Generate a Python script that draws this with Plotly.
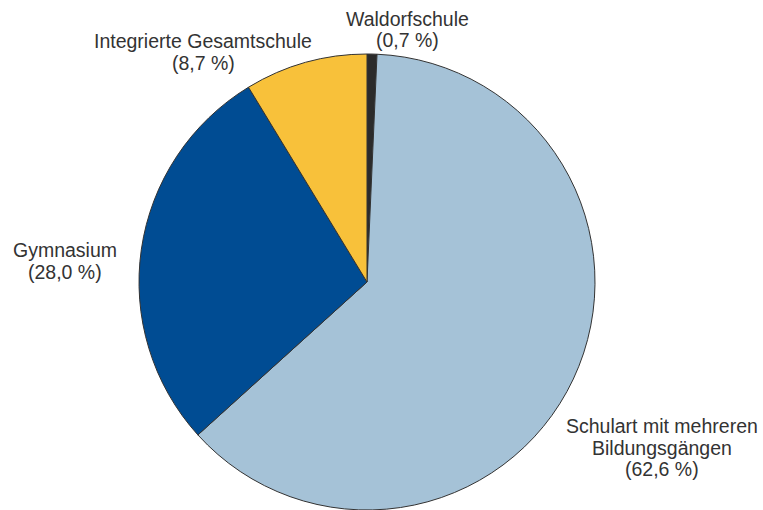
import plotly.graph_objects as go

categories = ["Waldorfschule", "Schulart mit mehreren Bildungsgängen", "Gymnasium", "Integrierte Gesamtschule"]
values = [0.7, 62.6, 28.0, 8.7]
colors = ["#2b2b2b", "#a5c2d7", "#004c93", "#f8c13a"]
label_lines = [
    ["Waldorfschule"],
    ["Schulart mit mehreren", "Bildungsgängen"],
    ["Gymnasium"],
    ["Integrierte Gesamtschule"],
]
label_x = [407, 662, 65, 203]
label_y_first = [19, 426, 250, 41]

W, H = 763, 510
cx, cy, r = 367, 282, 228

fig = go.Figure(go.Pie(
    labels=categories,
    values=values,
    sort=False,
    direction="clockwise",
    rotation=0,
    marker=dict(colors=colors, line=dict(color="#333333", width=1)),
    textinfo="none",
    hoverinfo="label+percent",
    showlegend=False,
    domain=dict(x=[(cx - r) / W, (cx + r) / W], y=[(H - cy - r) / H, (H - cy + r) / H]),
))

line_gap = 21.5
anns = []
for lines, v, x, y0 in zip(label_lines, values, label_x, label_y_first):
    all_lines = lines + ["(" + f"{v:.1f}".replace(".", ",") + " %)"]
    for i, t in enumerate(all_lines):
        y = y0 + i * line_gap
        anns.append(dict(
            text=t, x=x / W, y=1 - y / H, xref="paper", yref="paper",
            xanchor="center", yanchor="middle", showarrow=False,
            font=dict(family="Liberation Sans, Arial, sans-serif", size=19.5, color="#333333"),
        ))

fig.update_layout(
    width=W, height=H,
    margin=dict(l=0, r=0, t=0, b=0),
    paper_bgcolor="white",
    plot_bgcolor="white",
    annotations=anns,
)

fig.write_html(
    "out.html",
    config={"displayModeBar": False},
    post_script="document.body.style.margin='0';document.body.style.overflow='hidden';",
)
